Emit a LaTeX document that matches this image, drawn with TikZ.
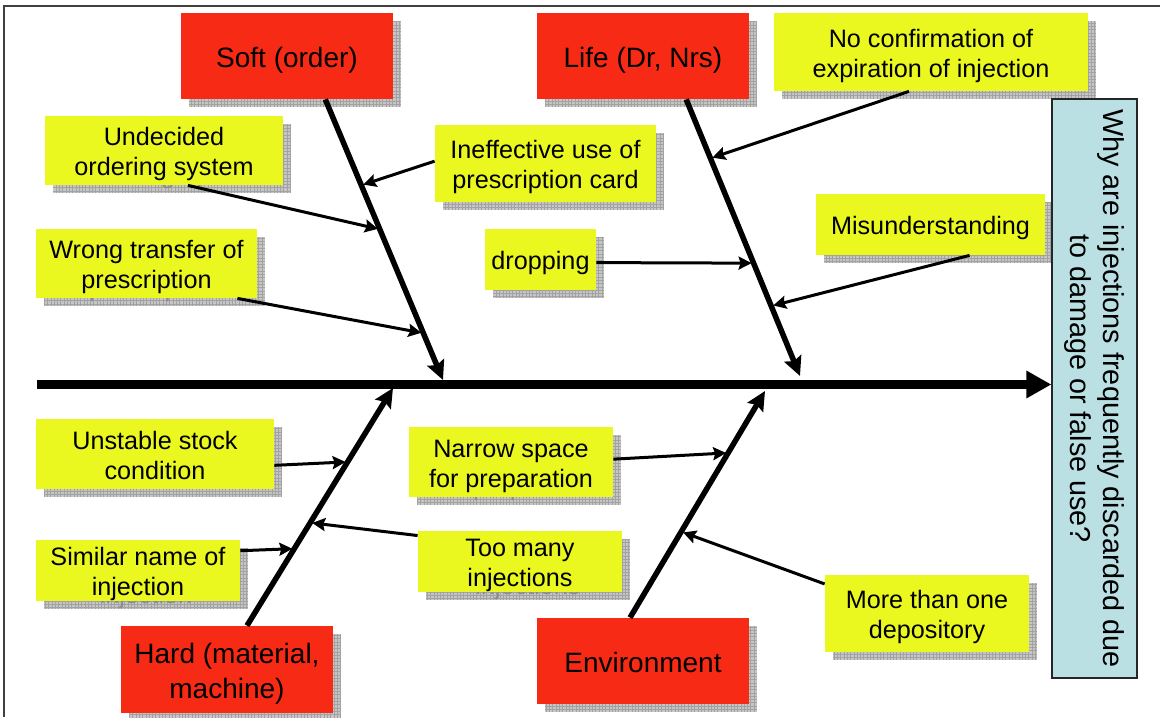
\documentclass[tikz,border=0pt]{standalone}
\usepackage{fontspec}
\setmainfont{Liberation Sans}
\usetikzlibrary{arrows.meta,calc}

\definecolor{causered}{RGB}{247,42,22}
\definecolor{factoryellow}{RGB}{234,248,32}
\definecolor{goalblue}{RGB}{187,224,228}
\definecolor{shadowgray}{RGB}{198,198,198}
\definecolor{gridgray}{RGB}{162,162,162}
\definecolor{ghostgray}{RGB}{140,140,140}

\pgfdeclarelayer{paper}
\pgfdeclarelayer{shadows}
\pgfsetlayers{paper,shadows,main}

\tikzset{
  fishbox/.style={inner sep=0pt, text=black},
  causebox/.style={fishbox, fill=causered, font=\fontsize{14}{17.5}\selectfont},
  factorbox/.style={fishbox, fill=factoryellow, font=\fontsize{12.6}{15}\selectfont},
  shadowbox/.style={fill=shadowgray, text=ghostgray,
    path picture={\draw[gridgray, line width=0.2pt]
      (path picture bounding box.south west) grid[step=1.65pt]
      (path picture bounding box.north east);}},
  goalbox/.style={inner sep=0pt, align=center, fill=goalblue, draw=black!85,
    line width=0.6pt, font=\fontsize{14.4}{16.5}\selectfont},
  spine/.style={line width=4.5pt, -{Triangle[length=12.5pt,width=13pt]}},
  bone/.style={line width=2.75pt, -{Stealth[length=9.5pt,width=9pt,inset=1.5pt]}},
  twig/.style={line width=1.5pt, -{Stealth[length=6.5pt,width=6.5pt,inset=1pt]},
    shorten >=1pt},
  framing/.style={line width=1pt, black!75},
}

% text set slightly below the box centre, keeping its nominal size
\newcommand\boxtext[1]{\raisebox{-2.2pt}[\height][\depth]{\begin{tabular}{@{}c@{}}#1\end{tabular}}}

% box with a grid-textured drop shadow: name, style, x1, y1, x2, y2, text
\newcommand\fishnode[7]{%
  \node[#2, minimum width={(#5-#3)*0.5pt}, minimum height={(#6-#4)*0.5pt}]
    (#1) at ({(#3+#5)/2},{(#4+#6)/2}) {\boxtext{#7}};
  \begin{pgfonlayer}{shadows}
    \node[#2, shadowbox, minimum width={(#5-#3)*0.5pt}, minimum height={(#6-#4)*0.5pt}]
      (#1-shadow) at ({(#3+#5)/2+8},{(#4+#6)/2+8}) {\boxtext{#7}};
  \end{pgfonlayer}}

\begin{document}
\begin{tikzpicture}[x=0.5pt, y=-0.5pt]
\useasboundingbox (0,0) rectangle (1160,717);
\begin{pgfonlayer}{paper}
  \fill[white] (0,0) rectangle (1160,717);
\end{pgfonlayer}
\draw[framing] (4,717) -- (4,6) -- (1160,6);

% main causes
\fishnode{soft}{causebox}{181}{13}{393}{99}{Soft (order)}
\fishnode{life}{causebox}{537}{13}{749}{99}{Life (Dr, Nrs)}
\fishnode{hard}{causebox}{121}{626}{333}{713}{Hard (material,\\machine)}
\fishnode{env}{causebox}{537}{618}{749}{704}{Environment}

% contributing factors
\fishnode{und}{factorbox}{45}{116}{283}{185}{Undecided\\ordering system}
\fishnode{ine}{factorbox}{435}{125}{656}{202}{Ineffective use of\\prescription card}
\fishnode{noconf}{factorbox}{774}{13}{1088}{91}{No confirmation of\\expiration of injection}
\fishnode{wrong}{factorbox}{36}{229}{257}{298}{Wrong transfer of\\prescription}
\fishnode{drop}{factorbox}{485}{229}{596}{290}{dropping}
\fishnode{mis}{factorbox}{816}{194}{1045}{255}{Misunderstanding}
\fishnode{unst}{factorbox}{36}{419}{274}{489}{Unstable stock\\condition}
\fishnode{sim}{factorbox}{36}{540}{240}{601}{Similar name of\\injection}
\fishnode{narrow}{factorbox}{409}{427}{613}{497}{Narrow space\\for preparation}
\fishnode{many}{factorbox}{418}{531}{622}{592}{Too many\\injections}
\fishnode{more}{factorbox}{825}{575}{1029}{652}{More than one\\depository}

% effect
\node[goalbox, rotate=-90, minimum width=289.5pt, minimum height=42.5pt]
  (goal) at (1094.5,388.5)
  {Why are injections frequently discarded due\\to damage or false use?};

% spine
\coordinate (tail) at (37,384.5);
\draw[spine] (tail) -- (tail -| goal.south);

% bones
\coordinate (softS) at ($(soft.south west)!0.68!(soft.south east)$);
\coordinate (softE) at (443,380);
\coordinate (lifeS) at ($(life.south west)!0.703!(life.south east)$);
\coordinate (lifeE) at (800,376);
\coordinate (hardS) at ($(hard.north west)!0.594!(hard.north east)$);
\coordinate (hardE) at (393,388);
\coordinate (envS) at ($(env.north west)!0.439!(env.north east)$);
\coordinate (envE) at (765,391);
\draw[bone] (softS) -- (softE);
\draw[bone] (lifeS) -- (lifeE);
\draw[bone] (hardS) -- (hardE);
\draw[bone] (envS) -- (envE);

% factor arrows
\draw[twig] ($(ine.north west)!0.47!(ine.south west)$) -- ($(softS)!0.306!(softE)$);
\draw[twig] ($(und.south west)!0.6!(und.south east)$) -- ($(softS)!0.463!(softE)$);
\draw[twig] ($(wrong.south west)!0.91!(wrong.south east)$) -- ($(softS)!0.833!(softE)$);
\draw[twig] ($(noconf.south west)!0.43!(noconf.south east)$) -- ($(lifeS)!0.213!(lifeE)$);
\draw[twig] ($(drop.north east)!0.55!(drop.south east)$) -- ($(lifeS)!0.592!(lifeE)$);
\draw[twig] ($(mis.south west)!0.67!(mis.south east)$) -- ($(lifeS)!0.747!(lifeE)$);
\draw[twig] ($(unst.north east)!0.66!(unst.south east)$) -- ($(hardS)!0.689!(hardE)$);
\draw[twig] ($(sim.north east)!0.18!(sim.south east)$) -- ($(hardS)!0.324!(hardE)$);
\draw[twig] ($(many.north west)!0.08!(many.south west)$) -- ($(hardS)!0.433!(hardE)$);
\draw[twig] ($(narrow.north east)!0.46!(narrow.south east)$) -- ($(envS)!0.727!(envE)$);
\draw[twig] ($(more.north west)!0.12!(more.south west)$) -- ($(envS)!0.379!(envE)$);
\end{tikzpicture}
\end{document}
